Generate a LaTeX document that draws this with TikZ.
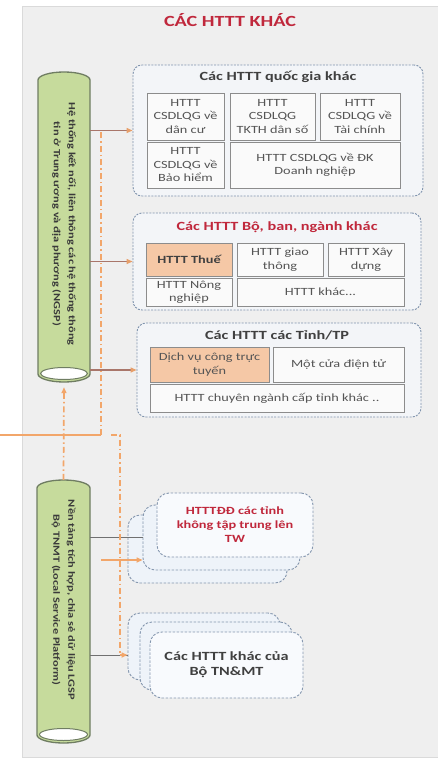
\documentclass[tikz,border=0pt]{standalone}
\usepackage{fontspec}
\setmainfont{Carlito}[FakeStretch=1.3]
\usetikzlibrary{arrows.meta,calc}

\definecolor{panelbg}{HTML}{EFEFEF}
\definecolor{panelline}{HTML}{DADADA}
\definecolor{titlered}{HTML}{C0283C}
\definecolor{titlegray}{HTML}{404040}
\definecolor{grpline}{HTML}{7F93AD}
\definecolor{grpfill}{HTML}{F3F5F8}
\definecolor{cellline}{HTML}{8C8C8C}
\definecolor{cellfill}{HTML}{FAFAFA}
\definecolor{celltext}{HTML}{555555}
\definecolor{hotfill}{HTML}{F5C8A6}
\definecolor{cylfill}{HTML}{C6DB9C}
\definecolor{cylline}{HTML}{6F7D62}
\definecolor{cyltext}{HTML}{3A3A3A}
\definecolor{cardline}{HTML}{8496AE}
\definecolor{cardfill}{HTML}{EEF3F9}
\definecolor{brownline}{HTML}{A9766A}
\definecolor{orangeline}{HTML}{F2A66A}
\definecolor{grayline}{HTML}{707070}

% vertical cylinder: #1 = left x, #2 = right x, #3 = top y, #4 = bottom y (pt)
\newcommand{\drawcyl}[4]{%
  \pgfmathsetmacro{\cylrx}{(#2-#1)/2}%
  \pgfmathsetmacro{\cylcx}{(#1+#2)/2}%
  \filldraw[fill=cylfill, draw=cylline, line width=1.3pt]
    (#1,#3+8) arc[start angle=180, end angle=0, x radius=\cylrx pt, y radius=8pt]
    -- (#2,#4-8) arc[start angle=0, end angle=-180, x radius=\cylrx pt, y radius=8pt]
    -- cycle;
  \filldraw[fill=white, draw=cylline, line width=1pt]
    (\cylcx,#4-8.5) ellipse[x radius=\cylrx pt-2.5pt, y radius=6pt];
}

\begin{document}
\begin{tikzpicture}[x=1pt,y=-1pt,
  grp/.style={draw=grpline, dash pattern=on 2pt off 1.3pt, line width=0.9pt,
    rounded corners=9pt, fill=grpfill, inner sep=0pt},
  grptitle/.style={font=\fontsize{12.5}{14}\selectfont\bfseries, text=titlegray},
  cell/.style={draw=cellline, line width=0.9pt, fill=cellfill, inner sep=1pt,
    align=center, text=celltext, font=\fontsize{11}{13.5}\selectfont},
  hot/.style={cell, fill=hotfill},
  sz/.style 2 args={minimum width=#1, minimum height=#2},
  cylarea/.style={inner sep=0pt},
  cyllabel/.style={rotate=-90, align=center, inner sep=0pt, text=cyltext,
    font=\fontsize{9.5}{15}\selectfont\bfseries},
  card/.style={draw=cardline, dash pattern=on 2.5pt off 1.5pt, line width=0.9pt,
    rounded corners=12pt, fill=cardfill},
  frontcard/.style={card, fill=white!60!cardfill, align=center,
    font=\fontsize{11}{14}\selectfont\bfseries},
  brownarr/.style={draw=brownline, line width=1.3pt,
    -{Triangle[length=6pt,width=5pt,color=orangeline!85!brownline]}},
  dashdot/.style={draw=orangeline, line width=1.7pt,
    dash pattern=on 6pt off 3pt on 1.5pt off 3pt},
  orangearr/.style={draw=orangeline, line width=1.7pt,
    -{Triangle[length=6pt,width=5pt]}},
  grayconn/.style={draw=grayline, line width=0.9pt}
]
\path[use as bounding box] (0,0) rectangle (437,760);

% background panel
\fill[panelbg, draw=panelline, line width=0.8pt] (22,6) rectangle (440,757);

\node[font=\fontsize{15.5}{17}\selectfont\bfseries, text=titlered] (title) at (230,20) {CÁC HTTT KHÁC};

% national information systems
\node[grp, sz={290pt}{131pt}] (g1) at (278,130.5) {};
\node[grptitle] (g1t) at (278,77) {Các HTTT quốc gia khác};
\node[cell, sz={77pt}{47pt}] (a1) at (185.5,116.5) {HTTT\\CSDLQG về\\dân cư};
\node[cell, sz={85pt}{47pt}] (a2) at (272.5,116.5) {HTTT\\CSDLQG\\TKTH dân số};
\node[cell, sz={80pt}{47pt}] (a3) at (360,116.5) {HTTT\\CSDLQG về\\Tài chính};
\node[cell, sz={77pt}{46pt}] (a4) at (185.5,165) {HTTT\\CSDLQG về\\Bảo hiểm};
\node[cell, sz={170pt}{46pt}] (a5) at (315,165) {HTTT CSDLQG về ĐK\\Doanh nghiệp};

% ministries and agencies
\node[grp, sz={288pt}{97pt}] (g2) at (277,261.5) {};
\node[grptitle, text=titlered] (g2t) at (277,227) {Các HTTT Bộ, ban, ngành khác};
\node[hot, sz={86pt}{33pt}, font=\fontsize{11}{13.5}\selectfont\bfseries, text=titlegray] (b1) at (189,259.5) {HTTT Thuế};
\node[cell, sz={86pt}{33pt}] (b2) at (280,259.5) {HTTT giao\\thông};
\node[cell, sz={76pt}{33pt}] (b3) at (366,259.5) {HTTT Xây\\dựng};
\node[cell, sz={86pt}{28pt}] (b4) at (189,292) {HTTT Nông\\nghiệp};
\node[cell, sz={167pt}{28pt}] (b5) at (320.5,292) {HTTT khác...};

% provinces and cities
\node[grp, sz={284pt}{94pt}] (g3) at (279,370) {};
\node[grptitle] (g3t) at (277,335) {Các HTTT các Tỉnh/TP};
\node[hot, sz={119pt}{35pt}] (c1) at (209.5,364.5) {Dịch vụ công trực\\tuyến};
\node[cell, sz={131pt}{35pt}] (c2) at (338.5,364.5) {Một cửa điện tử};
\node[cell, sz={254pt}{28pt}] (c3) at (277,398) {HTTT chuyên ngành cấp tỉnh khác ..};

% platforms
\drawcyl{38}{90}{72}{382}
\node[cylarea, sz={52pt}{310pt}] (cyl1) at (64,227) {};
\node[cyllabel] (cyl1t) at (64,224)
  {Hệ thống kết nối, liên thông các hệ thống thông\\tin ở Trung ương và địa phương (NGSP)};
\drawcyl{37}{90}{480}{743}
\node[cylarea, sz={53pt}{263pt}] (cyl2) at (63.5,611.5) {};
\node[cyllabel] (cyl2t) at (63.5,600)
  {Nền tảng tích hợp, chia sẻ dữ liệu LGSP\\Bộ TNMT (Local Service Platform)};

% stacked card groups
\node[card, sz={159pt}{68pt}] (s1c) at (207.5,549) {};
\node[card, sz={157pt}{65pt}] (s1b) at (221.5,537.5) {};
\node[frontcard, sz={156pt}{64pt}, text=titlered] (s1a) at (235,525)
  {HTTTĐĐ các tỉnh\\không tập trung lên\\TW};

\node[card, sz={152pt}{67pt}] (s2c) at (204,646.5) {};
\node[card, sz={152pt}{68pt}] (s2b) at (216,656) {};
\node[frontcard, sz={153pt}{66pt}, text=titlegray, font=\fontsize{12.5}{15}\selectfont\bfseries] (s2a) at (226.5,665)
  {Các HTTT khác của\\Bộ TN\&MT};

% connectors from the national platform
\draw[brownarr] (cyl1.east |- g1.west) -- (g1.west);
\draw[brownarr] (cyl1.east |- g2.west) -- (g2.west);
\draw[brownarr] (cyl1.east |- g3.west) -- (g3.west);

% connectors from the ministry platform
\coordinate (y655) at (0,655);
\draw[grayconn] (cyl2.east |- s1b.west) -- (s1b.west);
\draw[grayconn] (cyl2.east |- y655) -- (s2c.west |- y655);

% dash-dot links
\coordinate (ext) at (0,435);
\coordinate (jA) at (101,435);
\draw[draw=orangeline, line width=1.5pt] (ext) -- (jA);
\draw[dashdot] (jA) -- (jA |- g1.west);
\draw[dashdot, -{Triangle[length=6pt,width=5pt]}] (cyl2.north) -- ($(cyl1.south)+(0,5)$);

\coordinate (jB) at (111,435);
\coordinate (jC) at (120,435);
\draw[dashdot] (jB) -- (jC) -- (jC |- y655);
\draw[orangearr] (jC |- y655) -- (s2c.west |- y655);

\coordinate (o1) at (101,560);
\draw[orangearr] (o1) -- (o1 -| s1b.west);
\end{tikzpicture}
\end{document}
